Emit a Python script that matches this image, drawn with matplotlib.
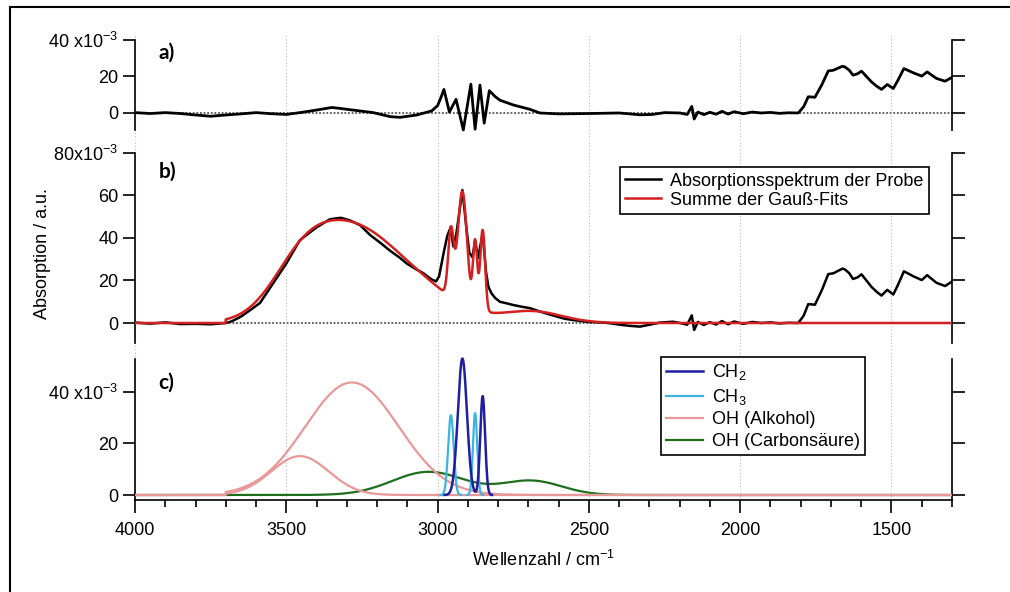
import numpy as np
import matplotlib
matplotlib.use('Agg')
import matplotlib.pyplot as plt
from matplotlib.lines import Line2D

plt.rcParams['font.family'] = 'Liberation Sans'
plt.rcParams['mathtext.fontset'] = 'custom'
plt.rcParams['mathtext.rm'] = 'Liberation Sans'
plt.rcParams['mathtext.it'] = 'Liberation Sans:italic'

# ---- data (absorbance in units of 1e-3, wavenumber in cm-1) ----

# measured spectrum, O-H / C-H region
spec_wn = [4000, 3950, 3900, 3850, 3800, 3750, 3700, 3680, 3650, 3620, 3587, 3543, 3500,
           3455, 3400, 3356, 3320, 3290, 3256, 3223, 3190, 3157, 3124, 3102, 3070, 3048,
           3020, 3005, 2995, 2980, 2968, 2957, 2948, 2938, 2918, 2905, 2895, 2885, 2876,
           2866, 2851, 2840, 2832, 2822, 2810, 2794, 2770, 2751, 2720, 2695, 2662, 2620,
           2580, 2553, 2520, 2500, 2450, 2420, 2387, 2360, 2331, 2300, 2265, 2222]
spec_abs = [0.2, -0.3, 0.3, -0.5, -0.4, -0.6, 0.0, 0.8, 3.0, 6.0, 9.4, 18.8, 28.0,
            39.0, 45.0, 48.8, 49.5, 48.3, 46.0, 41.4, 37.8, 34.0, 30.6, 28.0, 25.2, 23.5,
            20.5, 19.6, 22.0, 33.0, 41.0, 45.0, 36.0, 42.0, 62.6, 45.0, 33.0, 31.0, 38.5,
            30.6, 42.4, 24.0, 17.0, 14.0, 11.8, 10.0, 9.2, 8.5, 7.6, 7.0, 5.4, 3.6,
            2.0, 1.4, 0.8, 0.5, 0.2, -0.3, -1.0, -1.4, -1.7, -0.8, 0.2, 0.6]

# residual (spectrum minus fit), same region
res_wn = [4000, 3950, 3900, 3850, 3800, 3750, 3700, 3650, 3600, 3550, 3500, 3450, 3400,
          3350, 3322, 3290, 3256, 3213, 3157, 3124, 3069, 3020, 3000, 2990, 2979, 2961,
          2939, 2915, 2890, 2876, 2860, 2846, 2829, 2810, 2794, 2750, 2695, 2662, 2600,
          2500, 2400, 2330, 2290, 2250]
res_abs = [0.2, -0.3, 0.2, -0.3, -1.1, -1.8, -1.1, -0.5, 0.2, -0.4, -0.8, 0.3, 1.6,
           3.0, 2.5, 1.8, 1.1, 0.2, -2.0, -2.4, -1.1, 1.1, 4.0, 8.0, 12.9, 0.5,
           7.5, -9.3, 15.8, -8.9, 15.3, -5.6, 12.2, 9.0, 7.0, 4.4, 2.0, 0.0, -0.5,
           -0.3, 0.0, -1.0, -0.8, 0.2]

# noisy stretch around the CO2 region (identical in spectrum and residual)
noise_wn = [2199, 2175, 2160, 2152, 2140, 2120, 2100, 2080, 2060, 2040, 2020, 1990,
            1960, 1930, 1900, 1870, 1840]
noise_abs = [0.0, -0.8, 3.6, -3.3, 0.5, -0.9, 0.4, -0.7, 0.9, -0.6, 0.7, -0.4,
             0.5, 0.0, 0.3, -0.2, 0.1]

# fingerprint bands below 1810 cm-1 (not covered by the fit)
band_wn = [1808, 1790, 1775, 1753, 1730, 1709, 1692, 1662, 1654, 1640, 1627, 1612,
           1599, 1580, 1566, 1550, 1533, 1514, 1494, 1480, 1459, 1445, 1428, 1400,
           1382, 1365, 1351, 1323, 1300]
band_abs = [0.0, 3.5, 8.9, 8.6, 15.5, 23.0, 23.4, 25.6, 25.2, 23.5, 20.7, 21.5,
            22.9, 19.5, 17.0, 14.8, 12.9, 15.6, 13.4, 17.5, 24.3, 23.3, 22.0, 20.2,
            22.5, 20.5, 18.9, 17.4, 19.5]

# Gaussian fit components: centre (cm-1), amplitude (1e-3), sigma (cm-1)
ch2_center = [2918, 2851]
ch2_amp = [53.0, 38.4]
ch2_sigma = [15.0, 8.0]
ch3_center = [2956, 2876]
ch3_amp = [31.0, 31.8]
ch3_sigma = [9.0, 7.0]
alc_center = [3283, 3455]
alc_amp = [43.7, 15.1]
alc_sigma = [155.0, 95.0]
acid_center = [3030, 2690]
acid_amp = [9.0, 5.5]
acid_sigma = [120.0, 100.0]
fit_start = 3700

# ---- fit curves ----
wn = np.linspace(4000, 1300, 2701)


def gauss(c, a, s):
    y = a * np.exp(-0.5 * ((wn - c) / s) ** 2)
    y[wn > fit_start] = 0.0
    return y


ch2 = sum(gauss(c, a, s) for c, a, s in zip(ch2_center, ch2_amp, ch2_sigma))
ch3 = sum(gauss(c, a, s) for c, a, s in zip(ch3_center, ch3_amp, ch3_sigma))
alc = [gauss(c, a, s) for c, a, s in zip(alc_center, alc_amp, alc_sigma)]
acid = sum(gauss(c, a, s) for c, a, s in zip(acid_center, acid_amp, acid_sigma))
fit_sum = ch2 + ch3 + alc[0] + alc[1] + acid

spectrum_wn = np.concatenate([spec_wn, noise_wn, band_wn])
spectrum = np.concatenate([spec_abs, noise_abs, band_abs])
residual_wn = np.concatenate([res_wn, noise_wn, band_wn])
residual = np.concatenate([res_abs, noise_abs, band_abs])

# ---- figure ----
fig = plt.figure(figsize=(10.1, 5.92), dpi=100)
L, W = 135 / 1010, 817 / 1010
FS = 13


def fy(px):
    return 1 - px / 592


ax_a = fig.add_axes([L, fy(140), W, 105 / 592])
ax_b = fig.add_axes([L, fy(350), W, 210 / 592])
ax_c = fig.add_axes([L, fy(500), W, 150 / 592])

grid_kw = dict(color='#bdbdbd', lw=0.8, ls=(0, (1, 2)))
zero_kw = dict(color='#555555', lw=1.3, ls=(0, (1, 1)), zorder=1)

for ax in (ax_a, ax_b, ax_c):
    ax.set_xlim(4000, 1300)
    ax.spines['top'].set_visible(False)
    for s in ('left', 'right', 'bottom'):
        ax.spines[s].set_linewidth(1.2)
    ax.tick_params(axis='y', which='both', direction='out', left=True, right=True,
                   labelright=False, length=9, width=1.2, labelsize=FS, pad=3)
    ax.set_xticks([4000, 3500, 3000, 2500, 2000, 1500])
    ax.set_xticks(np.arange(1300, 4001, 100), minor=True)
    ax.grid(axis='x', which='major', **grid_kw)
    ax.set_facecolor('none')

for ax in (ax_a, ax_b):
    ax.spines['bottom'].set_visible(False)
    ax.tick_params(axis='x', which='both', bottom=False, labelbottom=False)

label_kw = dict(fontsize=15, fontweight='bold', family='Lato', ha='left', va='center')
leg_kw = dict(loc='upper right', fontsize=FS, frameon=True, fancybox=False,
              edgecolor='black', framealpha=1, handlelength=2.0, handletextpad=0.5,
              borderpad=0.3, borderaxespad=0)

# a) residual
ax_a.set_ylim(-14.8, 42.7)
ax_a.spines['left'].set_bounds(-9.3, 40)
ax_a.spines['right'].set_bounds(-9.3, 40)
ax_a.set_yticks([0, 20, 40], ['0', '20', r'40 x10$^{\mathregular{-3}}$'])
ax_a.axhline(0, **zero_kw)
ax_a.plot(residual_wn, residual, color='black', lw=2.0, zorder=3)
ax_a.text(0.029, 0.83, 'a)', transform=ax_a.transAxes, **label_kw)

# b) spectrum and sum of fits
ax_b.set_ylim(-12.7, 86.1)
ax_b.spines['left'].set_bounds(-9.4, 80)
ax_b.spines['right'].set_bounds(-9.4, 80)
ax_b.set_yticks([0, 20, 40, 60, 80], ['0', '20', '40', '60', r'80x10$^{\mathregular{-3}}$'])
ax_b.axhline(0, **zero_kw)
ax_b.plot(spectrum_wn, spectrum, color='black', lw=1.8, zorder=3,
          label='Absorptionsspektrum der Probe')
ax_b.plot(wn, fit_sum, color='#d42020', lw=1.8, zorder=4, label='Summe der Gauß-Fits')
ax_b.set_ylabel('Absorption / a.u.', fontsize=FS)
ax_b.yaxis.set_label_coords(-0.103, 0.46)
ax_b.text(0.029, 0.848, 'b)', transform=ax_b.transAxes, **label_kw)
leg_b = ax_b.legend(bbox_to_anchor=(0.972, 0.871), labelspacing=0.12, **leg_kw)
leg_b.get_frame().set_linewidth(1.2)

# c) individual Gaussian components
ax_c.set_ylim(-1.94, 56.3)
ax_c.spines['left'].set_bounds(-1.94, 52.8)
ax_c.spines['right'].set_bounds(-1.94, 52.8)
ax_c.set_yticks([0, 20, 40], ['0', '20', r'40 x10$^{\mathregular{-3}}$'])
ax_c.tick_params(axis='x', which='major', direction='out', length=9, width=1.2,
                 labelsize=FS, pad=7)
ax_c.tick_params(axis='x', which='minor', direction='out', length=5, width=1.2)
ax_c.set_xticklabels(['4000', '3500', '3000', '2500', '2000', '1500'])

ax_c.plot(wn, acid, color='#1e6e1e', lw=1.6, zorder=2)
ax_c.plot(wn, alc[0], color='#e89898', lw=1.6, zorder=3)
ax_c.plot(wn, alc[1], color='#e89898', lw=1.6, zorder=3)
ax_c.plot(wn, np.where(ch3 > 0.02, ch3, np.nan), color='#3bb4e0', lw=1.6, zorder=4)
ax_c.plot(wn, np.where(ch2 > 0.02, ch2, np.nan), color='#1f1fa0', lw=1.8, zorder=5)

# legend handles in the listed order
h_ch2, = ax_c.plot([], [], color='#1f1fa0', lw=1.8, label=r'CH$_{\mathregular{2}}$')
h_ch3, = ax_c.plot([], [], color='#3bb4e0', lw=1.6, label=r'CH$_{\mathregular{3}}$')
h_alc, = ax_c.plot([], [], color='#e89898', lw=1.6, label='OH (Alkohol)')
h_acid, = ax_c.plot([], [], color='#1e6e1e', lw=1.6, label='OH (Carbonsäure)')
leg_c = ax_c.legend(handles=[h_ch2, h_ch3, h_alc, h_acid],
                    bbox_to_anchor=(0.8935, 0.953), labelspacing=0.25, **leg_kw)
leg_c.get_frame().set_linewidth(1.2)
ax_c.text(0.029, 0.78, 'c)', transform=ax_c.transAxes, **label_kw)

ax_c.set_xlabel(r'Wellenzahl / cm$^{\mathregular{-1}}$', fontsize=FS)
ax_c.xaxis.set_label_coords(0.5, -0.33)

# outer frame: top and left edge only
top = 1 - 7 / 592
left = 10 / 1010
fig.add_artist(Line2D([left, 1.0], [top, top], transform=fig.transFigure,
                      color='black', lw=1.5))
fig.add_artist(Line2D([left, left], [0.0, top], transform=fig.transFigure,
                      color='black', lw=1.5))

fig.savefig('out.png', dpi=100)
